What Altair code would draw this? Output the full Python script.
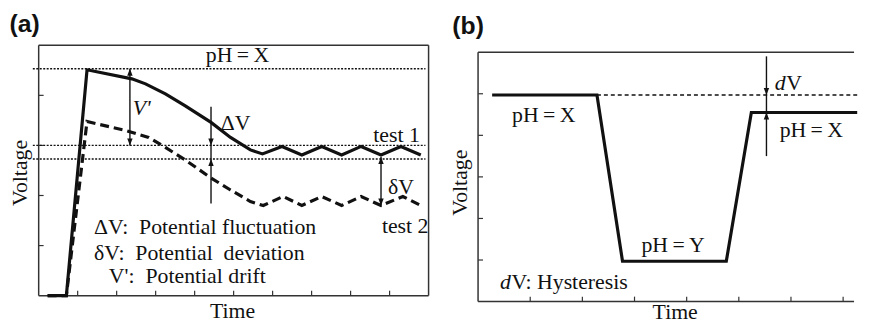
import altair as alt
import pandas as pd

# ---------------- values ----------------
# Panel (a): schematic of drift / fluctuation / deviation  (Time 0..10, Voltage 0..5)
a_t1_time = [0.23, 0.71, 1.24, 2.39, 2.74, 3.25, 3.76, 4.42, 4.92, 5.43, 5.74,
             6.24, 6.75, 7.26, 7.77, 8.27, 8.78, 9.29, 9.80]
a_t1_volt = [0.00, 0.00, 4.51, 4.33, 4.23, 4.03, 3.79, 3.46, 3.16, 2.91, 2.83,
             2.98, 2.81, 2.98, 2.81, 2.98, 2.81, 2.98, 2.81]
a_t2_time = [0.23, 0.71, 1.24, 1.55, 2.23, 2.82, 3.25, 3.76, 4.42, 4.92, 5.43,
             5.76, 6.27, 6.75, 7.26, 7.77, 8.27, 8.78, 9.34, 9.85]
a_t2_volt = [0.00, 0.00, 3.48, 3.42, 3.30, 3.16, 2.96, 2.71, 2.35, 2.11, 1.88,
             1.80, 1.98, 1.80, 1.98, 1.80, 1.98, 1.80, 1.98, 1.78]
a_ref_volt = [4.53, 3.00, 2.73]
a_ref_time = [-0.15, 9.92]
a_arrow_time = [2.34, 4.42, 8.78]
a_arrow_top = [4.53, 3.77, 2.77]
a_arrow_bot = [3.00, 1.84, 1.78]
a_head_time = [2.34, 2.34, 4.42, 4.42, 8.78, 8.78]
a_head_volt = [4.53, 3.00, 3.00, 2.73, 2.77, 1.80]
a_head_dir = ["up", "down", "down", "up", "up", "down"]
a_xticks = [1, 2, 3, 4, 5, 6, 7, 8, 9]
a_yticks = [1, 2, 3, 4]
a_frame = [0, 10, 0, 5]
a_lab_text = ["pH\u2009=\u2009X", "test 1", "test 2", "\u03b4V"]
a_lab_time = [5.10, 9.18, 9.40, 9.29]
a_lab_volt = [4.80, 3.20, 1.38, 2.17]
a_left_text = ["\u0394V",
               "\u0394V:\u00a0 Potential fluctuation",
               "\u03b4V:\u00a0 Potential\u00a0 deviation",
               "V':\u00a0 Potential drift"]
a_left_time = [4.67, 1.42, 1.42, 1.80]
a_left_volt = [3.44, 1.36, 0.85, 0.39]
a_ital_text = ["V'"]
a_ital_time = [2.64]
a_ital_volt = [3.75]
a_xtitle = ("Time", 4.97, -0.31)
a_ytitle = ("Voltage", -0.48, 2.45)
a_tag = ("(a)", -0.36, 5.43)

# Panel (b): hysteresis schematic (Time 0..7.2, Voltage 0..6)
b_time = [0.27, 2.28, 2.77, 4.76, 5.24, 7.27]
b_volt = [4.97, 4.97, 0.97, 0.97, 4.55, 4.55]
b_base_time = [2.28, 7.27]
b_base_volt = [4.97, 4.97]
b_arrow_time = [5.53]
b_arrow_top = [5.90]
b_arrow_bot = [3.50]
b_head_time = [5.53, 5.53]
b_head_volt = [4.97, 4.55]
b_head_dir = ["down", "up"]
b_xticks = [1, 2, 3, 4, 5, 6, 7]
b_yticks = [1, 2, 3, 4, 5]
b_frame_top = 6
b_lab_text = ["pH\u2009=\u2009X", "pH\u2009=\u2009X", "pH\u2009=\u2009Y"]
b_lab_time = [1.26, 6.39, 3.74]
b_lab_volt = [4.48, 4.12, 1.36]
b_left_text = ["V", "V: Hysteresis"]
b_left_time = [5.91, 0.64]
b_left_volt = [5.26, 0.48]
b_ital_text = ["d", "d"]
b_ital_time = [5.69, 0.42]
b_ital_volt = [5.26, 0.48]
b_xtitle = ("Time", 3.78, -0.26)
b_ytitle = ("Voltage", -0.34, 2.86)
b_tag = ("(b)", -0.19, 6.62)

# ---------------- styling / layout ----------------
INK = "#111111"
SERIF = "Liberation Serif"
FS = 22
UP = "M0,0L-1,2.6L1,2.6Z"
DOWN = "M0,0L-1,-2.6L1,-2.6Z"


def span(d0, d1, p0, p1, a0, a1):
    k = (p1 - p0) / (d1 - d0)
    return [d0 + (a0 - p0) / k, d0 + (a1 - p0) / k]


A_W, A_H, B_W, B_H = 448, 309, 408, 309
ax_dom = span(0, 10, 39, 433, 8, 456)
ay_dom = span(0, 5, 297, 44, 317, 8)
bx_dom = span(0, 1, 483, 535.7, 456, 864)
by_dom = span(0, 6, 303, 51, 317, 8)
a_px = (394 / 10, 253 / 5)
b_px = (52.7, 42.0)
TICK = 5


def build_panel(xd, yd, px, w, h, parts):
    sx = alt.Scale(domain=xd, nice=False, zero=False)
    sy = alt.Scale(domain=yd, nice=False, zero=False)
    X = lambda f: alt.X(f, type="quantitative", scale=sx, axis=None)
    Y = lambda f: alt.Y(f, type="quantitative", scale=sy, axis=None)
    layers = []

    # frame
    fr = pd.DataFrame(parts["frame"], columns=["x0", "x1", "y0", "y1"])
    layers.append(alt.Chart(fr).mark_rule(color="#333333", strokeWidth=1.5).encode(
        x=X("x0"), x2="x1", y=Y("y0"), y2="y1"))

    # inward ticks
    rows = [(t, t, 0, TICK / px[1]) for t in parts["xticks"]]
    rows += [(0, TICK / px[0], v, v) for v in parts["yticks"]]
    tk = pd.DataFrame(rows, columns=["x0", "x1", "y0", "y1"])
    layers.append(alt.Chart(tk).mark_rule(color="#333333", strokeWidth=1.2).encode(
        x=X("x0"), x2="x1", y=Y("y0"), y2="y1"))

    # extra lines (reference / dashed)
    for df, style in parts["lines"]:
        df = df.reset_index().rename(columns={"index": "i"})
        layers.append(alt.Chart(df).mark_line(color=INK, **style).encode(
            x=X("t"), y=Y("v"), detail="g:N", order="i:Q"))

    # arrow shafts
    ar = pd.DataFrame(parts["arrows"], columns=["x0", "y0", "y1"])
    layers.append(alt.Chart(ar).mark_rule(color=INK, strokeWidth=1.4).encode(
        x=X("x0"), y=Y("y0"), y2="y1"))
    hd = pd.DataFrame(parts["heads"], columns=["t", "v", "dir"])
    layers.append(alt.Chart(hd).mark_point(filled=True, opacity=1, size=30, color=INK).encode(
        x=X("t"), y=Y("v"),
        shape=alt.Shape("dir:N", scale=alt.Scale(domain=["up", "down"], range=[UP, DOWN]), legend=None)))

    # texts
    for df, style in parts["texts"]:
        layers.append(alt.Chart(df).mark_text(color=INK, baseline="middle", **style).encode(
            x=X("t"), y=Y("v"), text="s:N"))

    return alt.layer(*layers).properties(width=w, height=h)


def txt(texts, ts, vs):
    return pd.DataFrame({"s": texts, "t": ts, "v": vs})


def series(ts, vs, g):
    return pd.DataFrame({"t": ts, "v": vs, "g": g})


ref_rows = []
for k, lv in enumerate(a_ref_volt):
    ref_rows.append(series(a_ref_time, [lv, lv], f"r{k}"))
a_refs = pd.concat(ref_rows, ignore_index=True)

panel_a = build_panel(ax_dom, ay_dom, a_px, A_W, A_H, {
    "frame": [(a_frame[0], a_frame[1], a_frame[2], a_frame[2]),
              (a_frame[0], a_frame[1], a_frame[3], a_frame[3]),
              (a_frame[0], a_frame[0], a_frame[2], a_frame[3]),
              (a_frame[1], a_frame[1], a_frame[2], a_frame[3])],
    "xticks": a_xticks, "yticks": a_yticks,
    "lines": [
        (a_refs, dict(strokeWidth=1.4, strokeDash=[2, 1.5])),
        (series(a_t2_time, a_t2_volt, "test2"), dict(strokeWidth=3.2, strokeDash=[9, 5])),
        (series(a_t1_time, a_t1_volt, "test1"), dict(strokeWidth=3.2)),
    ],
    "arrows": list(zip(a_arrow_time, a_arrow_top, a_arrow_bot)),
    "heads": list(zip(a_head_time, a_head_volt, a_head_dir)),
    "texts": [
        (txt(a_lab_text, a_lab_time, a_lab_volt), dict(font=SERIF, fontSize=FS, align="center")),
        (txt(a_left_text, a_left_time, a_left_volt), dict(font=SERIF, fontSize=FS, align="left")),
        (txt(a_ital_text, a_ital_time, a_ital_volt), dict(font=SERIF, fontSize=FS, align="center", fontStyle="italic")),
        (txt([a_xtitle[0]], [a_xtitle[1]], [a_xtitle[2]]), dict(font=SERIF, fontSize=FS, align="center")),
        (txt([a_ytitle[0]], [a_ytitle[1]], [a_ytitle[2]]), dict(font=SERIF, fontSize=FS, align="center", angle=270)),
        (txt([a_tag[0]], [a_tag[1]], [a_tag[2]]), dict(font="Liberation Sans", fontSize=25, fontWeight="bold", align="center")),
    ],
})

bx_end = bx_dom[1] - 0.02
panel_b = build_panel(bx_dom, by_dom, b_px, B_W, B_H, {
    "frame": [(0, bx_end, 0, 0), (0, bx_end, b_frame_top, b_frame_top), (0, 0, 0, b_frame_top)],
    "xticks": b_xticks, "yticks": b_yticks,
    "lines": [
        (series(b_base_time, b_base_volt, "base"), dict(strokeWidth=1.4, strokeDash=[4, 3])),
        (series(b_time, b_volt, "sig"), dict(strokeWidth=3.2)),
    ],
    "arrows": list(zip(b_arrow_time, b_arrow_top, b_arrow_bot)),
    "heads": list(zip(b_head_time, b_head_volt, b_head_dir)),
    "texts": [
        (txt(b_lab_text, b_lab_time, b_lab_volt), dict(font=SERIF, fontSize=FS, align="center")),
        (txt(b_left_text, b_left_time, b_left_volt), dict(font=SERIF, fontSize=FS, align="left")),
        (txt(b_ital_text, b_ital_time, b_ital_volt), dict(font=SERIF, fontSize=FS, align="left", fontStyle="italic")),
        (txt([b_xtitle[0]], [b_xtitle[1]], [b_xtitle[2]]), dict(font=SERIF, fontSize=FS, align="center")),
        (txt([b_ytitle[0]], [b_ytitle[1]], [b_ytitle[2]]), dict(font=SERIF, fontSize=FS, align="center", angle=270)),
        (txt([b_tag[0]], [b_tag[1]], [b_tag[2]]), dict(font="Liberation Sans", fontSize=25, fontWeight="bold", align="center")),
    ],
})

chart = alt.hconcat(panel_a, panel_b, spacing=0, bounds="flush").properties(
    padding=0, background="white"
).configure_view(stroke=None)

chart.save("out.html", embed_options={"renderer": "svg", "actions": False})
